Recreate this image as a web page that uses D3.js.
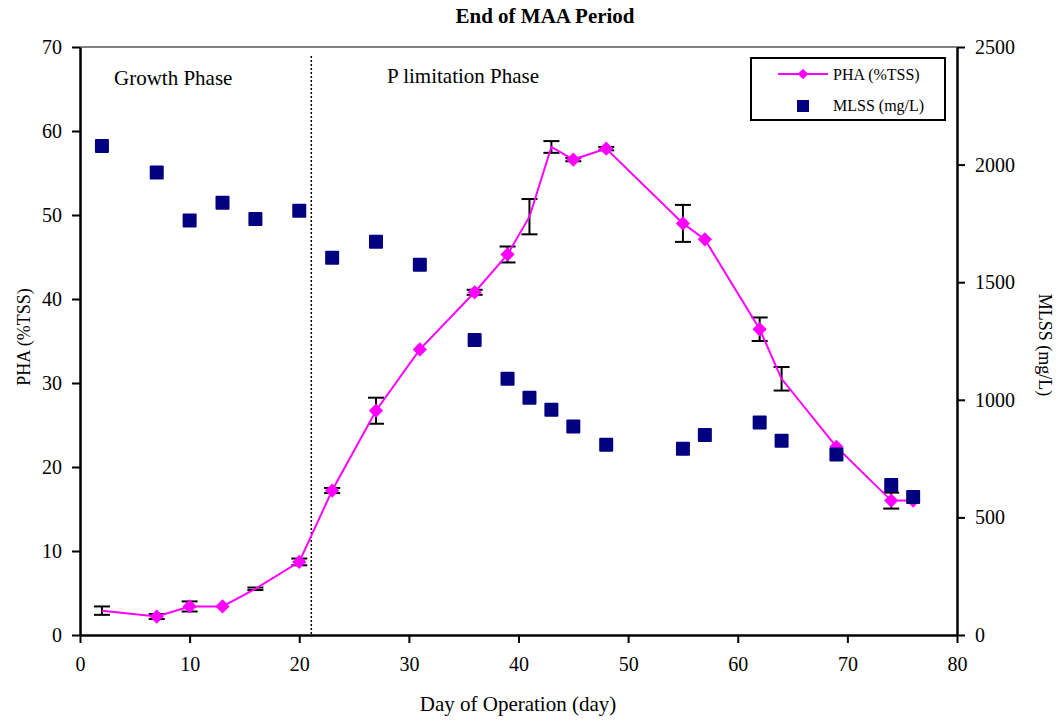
<!DOCTYPE html>
<html>
<head>
<meta charset="utf-8">
<script src="https://cdn.jsdelivr.net/npm/d3@7"></script>
<style>
  body { margin: 0; background: #fff; }
  text { font-family: "Liberation Serif", "Times New Roman", serif; fill: #000; }
</style>
</head>
<body>
<div id="chart"></div>
<script>
// data
const phaDays   = [2, 7, 10, 13, 16, 20, 23, 27, 31, 36, 39, 41, 43, 45, 48, 55, 57, 62, 64, 69, 74, 76];
const phaValues = [2.9, 2.2, 3.4, 3.4, 5.5, 8.7, 17.2, 26.7, 34.0, 40.8, 45.3, 49.8, 58.1, 56.6, 57.9, 49.0, 47.1, 36.4, 30.5, 22.4, 16.0, 16.0];
const phaErrors = [0.5, 0.3, 0.6, 0, 0.15, 0.4, 0.3, 1.55, 0, 0.3, 0.95, 2.1, 0.7, 0.2, 0.2, 2.2, 0, 1.4, 1.4, 0, 0.95, 0];
const phaMarker = [0, 1, 1, 1, 0, 1, 1, 1, 1, 1, 1, 0, 0, 1, 1, 1, 1, 1, 0, 1, 1, 1];

const mlssDays   = [2, 7, 10, 13, 16, 20, 23, 27, 31, 36, 39, 41, 43, 45, 48, 55, 57, 62, 64, 69, 74, 76];
const mlssValues = [2079, 1966, 1762, 1838, 1769, 1804, 1604, 1672, 1574, 1254, 1090, 1009, 958, 886, 809, 792, 850, 903, 826, 767, 638, 587];

const xTicks = [0, 10, 20, 30, 40, 50, 60, 70, 80];
const leftTicks = [0, 10, 20, 30, 40, 50, 60, 70];
const rightTicks = [0, 500, 1000, 1500, 2000, 2500];
const phaseBoundary = 21.1;

const W = 1060, H = 721;
const margin = {top: 47, right: 103, bottom: 86, left: 80};
const width = W - margin.left - margin.right,
      height = H - margin.top - margin.bottom;

const svg = d3.select("#chart").append("svg")
    .attr("width", W).attr("height", H);

const g = svg.append("g")
    .attr("transform", `translate(${margin.left},${margin.top})`);

const x = d3.scaleLinear().domain([0, 80]).range([0, width]);
const yL = d3.scaleLinear().domain([0, 70]).range([height, 0]);
const yR = d3.scaleLinear().domain([0, 2500]).range([height, 0]);

// top border of plot area
g.append("line")
    .attr("x1", 0).attr("x2", width).attr("y1", 0).attr("y2", 0)
    .attr("stroke", "#808080").attr("stroke-width", 2);

// axes
const styleAxis = sel => {
  sel.attr("font-family", null);
  sel.select(".domain").attr("stroke", "#000").attr("stroke-width", 2.5);
  sel.selectAll(".tick line").attr("stroke", "#000").attr("stroke-width", 2);
  sel.selectAll(".tick text").style("font-size", "20px").attr("fill", "#000");
};

g.append("g")
    .attr("transform", `translate(0,${height})`)
    .call(d3.axisBottom(x).tickValues(xTicks).tickSize(8).tickSizeOuter(0).tickPadding(14))
    .call(styleAxis);

g.append("g")
    .call(d3.axisLeft(yL).tickValues(leftTicks).tickSize(8).tickSizeOuter(0).tickPadding(10))
    .call(styleAxis);

g.append("g")
    .attr("transform", `translate(${width},0)`)
    .call(d3.axisRight(yR).tickValues(rightTicks).tickFormat(d3.format("d"))
      .tickSize(8).tickSizeOuter(0).tickPadding(10))
    .call(styleAxis);

// phase boundary
g.append("line")
    .attr("x1", x(phaseBoundary)).attr("x2", x(phaseBoundary))
    .attr("y1", 9).attr("y2", height)
    .attr("stroke", "#000").attr("stroke-width", 1.5)
    .attr("stroke-dasharray", "2,2");

g.append("text").attr("x", 34).attr("y", 38)
    .style("font-size", "21px").text("Growth Phase");
g.append("text").attr("x", 307).attr("y", 36)
    .style("font-size", "21px").text("P limitation Phase");

const pha = phaDays.map((d, i) => ({day: d, v: phaValues[i], e: phaErrors[i], m: phaMarker[i]}));

// error bars
const eb = g.selectAll(".err")
    .data(pha.filter(d => d.e > 0))
    .join("g").attr("class", "err")
    .attr("stroke", "#000").attr("stroke-width", 2);
eb.append("line")
    .attr("x1", d => x(d.day)).attr("x2", d => x(d.day))
    .attr("y1", d => yL(d.v + d.e)).attr("y2", d => yL(d.v - d.e));
eb.append("line")
    .attr("x1", d => x(d.day) - 8).attr("x2", d => x(d.day) + 8)
    .attr("y1", d => yL(d.v + d.e)).attr("y2", d => yL(d.v + d.e));
eb.append("line")
    .attr("x1", d => x(d.day) - 8).attr("x2", d => x(d.day) + 8)
    .attr("y1", d => yL(d.v - d.e)).attr("y2", d => yL(d.v - d.e));

// PHA line
g.append("path")
    .datum(pha)
    .attr("fill", "none")
    .attr("stroke", "#ff00ff")
    .attr("stroke-width", 2)
    .attr("d", d3.line().x(d => x(d.day)).y(d => yL(d.v)));

const diamond = d3.symbol().type(d3.symbolDiamond2).size(130);
g.selectAll(".pha")
    .data(pha.filter(d => d.m))
    .join("path")
    .attr("class", "pha")
    .attr("transform", d => `translate(${x(d.day)},${yL(d.v)})`)
    .attr("d", diamond)
    .attr("fill", "#ff00ff");

// MLSS squares
const sq = 14;
g.selectAll(".mlss")
    .data(mlssDays.map((d, i) => ({day: d, v: mlssValues[i]})))
    .join("rect")
    .attr("class", "mlss")
    .attr("x", d => x(d.day) - sq / 2)
    .attr("y", d => yR(d.v) - sq / 2)
    .attr("width", sq).attr("height", sq)
    .attr("rx", 1)
    .attr("fill", "#000080");

// titles
svg.append("text")
    .attr("x", 545).attr("y", 23)
    .attr("text-anchor", "middle")
    .style("font-size", "21px").style("font-weight", "bold")
    .text("End of MAA Period");

svg.append("text")
    .attr("x", 518).attr("y", 711)
    .attr("text-anchor", "middle")
    .style("font-size", "21px")
    .text("Day of Operation (day)");

svg.append("text")
    .attr("transform", "translate(30,337) rotate(-90)")
    .attr("text-anchor", "middle")
    .style("font-size", "18px")
    .text("PHA (%TSS)");

svg.append("text")
    .attr("transform", "translate(1039,345) rotate(90)")
    .attr("text-anchor", "middle")
    .style("font-size", "18px")
    .text("MLSS (mg/L)");

// legend
const lg = svg.append("g").attr("transform", "translate(751,58)");
lg.append("rect")
    .attr("width", 194).attr("height", 62)
    .attr("fill", "#fff").attr("stroke", "#000").attr("stroke-width", 2);
lg.append("line")
    .attr("x1", 27).attr("x2", 77).attr("y1", 16).attr("y2", 16)
    .attr("stroke", "#ff00ff").attr("stroke-width", 2);
lg.append("path")
    .attr("transform", "translate(52,16)")
    .attr("d", d3.symbol().type(d3.symbolDiamond2).size(72))
    .attr("fill", "#ff00ff");
lg.append("text").attr("x", 82).attr("y", 22)
    .style("font-size", "16px").text("PHA (%TSS)");
lg.append("rect")
    .attr("x", 46).attr("y", 42).attr("width", 12).attr("height", 12)
    .attr("fill", "#000080");
lg.append("text").attr("x", 82).attr("y", 53)
    .style("font-size", "16px").text("MLSS (mg/L)");
</script>
</body>
</html>
